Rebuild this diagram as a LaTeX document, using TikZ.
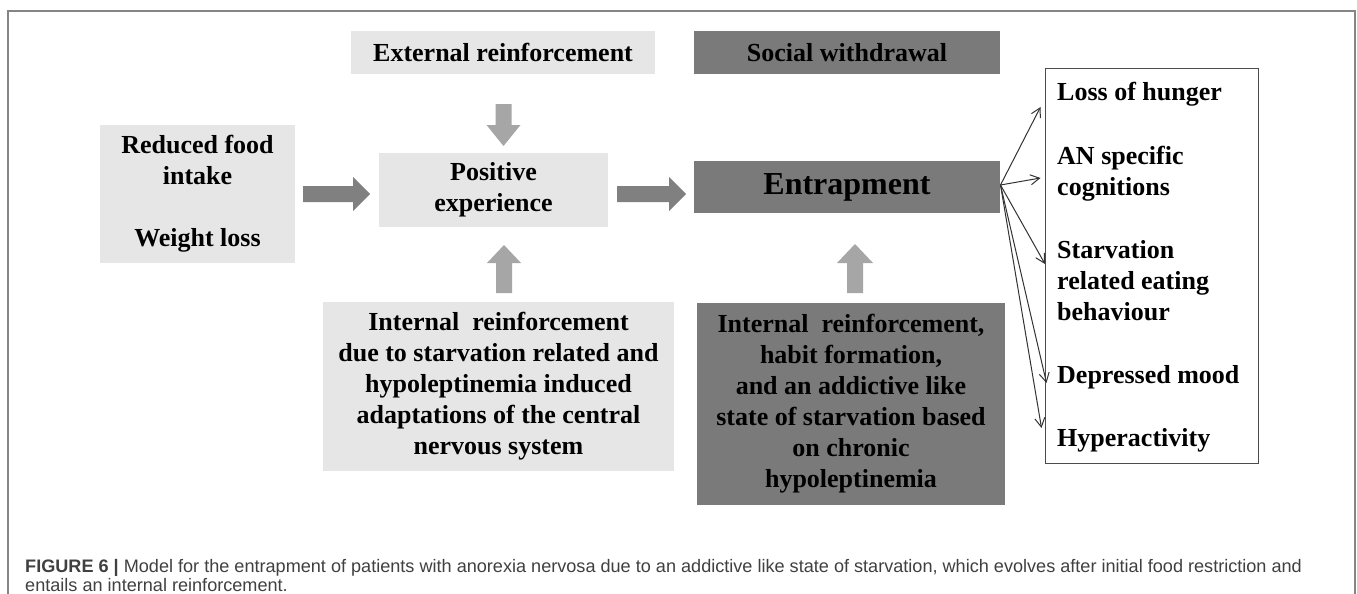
\documentclass[tikz,border=0pt]{standalone}
\usepackage{fontspec}
\setmainfont{Liberation Serif}
\newfontfamily\capfont{Liberation Sans}
\usetikzlibrary{arrows.meta}
\definecolor{lightbox}{HTML}{E6E6E6}
\definecolor{darkbox}{HTML}{7A7A7A}
\definecolor{harrowc}{HTML}{808080}
\definecolor{varrowc}{HTML}{A6A6A6}
\definecolor{framec}{HTML}{858585}
\definecolor{capc}{HTML}{404040}
\begin{document}
\begin{tikzpicture}[x=1pt,y=-1pt,
  box/.style={inner sep=0pt, align=center, font=\fontsize{26}{31}\selectfont\bfseries, text=black},
  lbox/.style={box, fill=lightbox},
  dbox/.style={box, fill=darkbox},
  item/.style={inner sep=0pt, anchor=base west, font=\fontsize{26}{31}\selectfont\bfseries, text=black},
  thinarr/.style={draw=black!80, line width=1pt, -{Straight Barb[length=9pt,width=10pt]}},
  capstyle/.style={inner sep=0pt, anchor=base west, font=\capfont\fontsize{18.1}{20}\selectfont, text=capc},
]
\useasboundingbox (0,0) rectangle (1357,594);
\fill[white] (0,0) rectangle (1357,594);
\draw[framec, line width=1.5pt] (8,620) -- (8,11) -- (1355,11) -- (1355,620);

% boxes
\node[lbox, minimum width=304, minimum height=43] (ext) at (503,52.5) {External reinforcement};
\node[dbox, minimum width=306, minimum height=43] (soc) at (847,52.5) {Social withdrawal};
\node[lbox, minimum width=195, minimum height=138] (red) at (197.5,194) {Reduced food\\intake\\ \\Weight loss};
\node[lbox, minimum width=229, minimum height=74] (pos) at (493.5,190) {Positive\\experience};
\node[dbox, minimum width=306, minimum height=52, font=\fontsize{32}{38}\selectfont\bfseries] (ent) at (847,187) {Entrapment};
\node[lbox, minimum width=351, minimum height=169] (intl) at (498.5,386.5) {Internal\ \ reinforcement\\due to starvation related and\\hypoleptinemia induced\\adaptations of the central\\nervous system};
\node[dbox, minimum width=308, minimum height=202] (intd) at (851,404) {Internal\ \ reinforcement,\\habit formation,\\and an addictive like\\state of starvation based\\on chronic\\hypoleptinemia};

% list box
\node[draw=black!70, line width=1pt, inner sep=0pt, minimum width=213, minimum height=394] (list) at (1151.5,266) {};
\node[item] (l1) at (1057,100.5) {Loss of hunger};
\node[item] (l2a) at (1057,164) {AN specific};
\node[item] (l2b) at (1057,195) {cognitions};
\node[item] (l3a) at (1057,258) {Starvation};
\node[item] (l3b) at (1057,289) {related eating};
\node[item] (l3c) at (1057,320) {behaviour};
\node[item] (l4) at (1057,383) {Depressed mood};
\node[item] (l5) at (1057,446.5) {Hyperactivity};

% thick arrows
\fill[harrowc] (303,186) -- (353,186) -- (353,177) -- (370,194) -- (353,211) -- (353,202) -- (303,202) -- cycle;
\fill[harrowc] (617,186) -- (669,186) -- (669,177) -- (686,194) -- (669,211) -- (669,202) -- (617,202) -- cycle;
\fill[varrowc] (495.5,104) -- (511.5,104) -- (511.5,125) -- (520.5,125) -- (503.5,146) -- (486.5,125) -- (495.5,125) -- cycle;
\fill[varrowc] (496,293) -- (512,293) -- (512,263) -- (521,263) -- (504,245) -- (487,263) -- (496,263) -- cycle;
\fill[varrowc] (847,293) -- (863,293) -- (863,263) -- (873,263) -- (855,244) -- (837,263) -- (847,263) -- cycle;

% thin arrows
\coordinate (src) at (1000.5,185);
\coordinate (t1) at (1040.5,107);
\coordinate (t2) at (1040.5,178);
\coordinate (t3) at (1045,264);
\coordinate (t4) at (1046.5,383);
\coordinate (t5) at (1041.5,428);
\draw[thinarr] (src) -- (t1);
\draw[thinarr] (src) -- (t2);
\draw[thinarr] (src) -- (t3);
\draw[thinarr] (src) -- (t4);
\draw[thinarr] (src) -- (t5);

% caption
\node[capstyle] (cap1) at (25,572.5) {\textbf{FIGURE 6 |} Model for the entrapment of patients with anorexia nervosa due to an addictive like state of starvation, which evolves after initial food restriction and};
\node[capstyle] (cap2) at (25,591) {entails an internal reinforcement.};
\end{tikzpicture}
\end{document}
